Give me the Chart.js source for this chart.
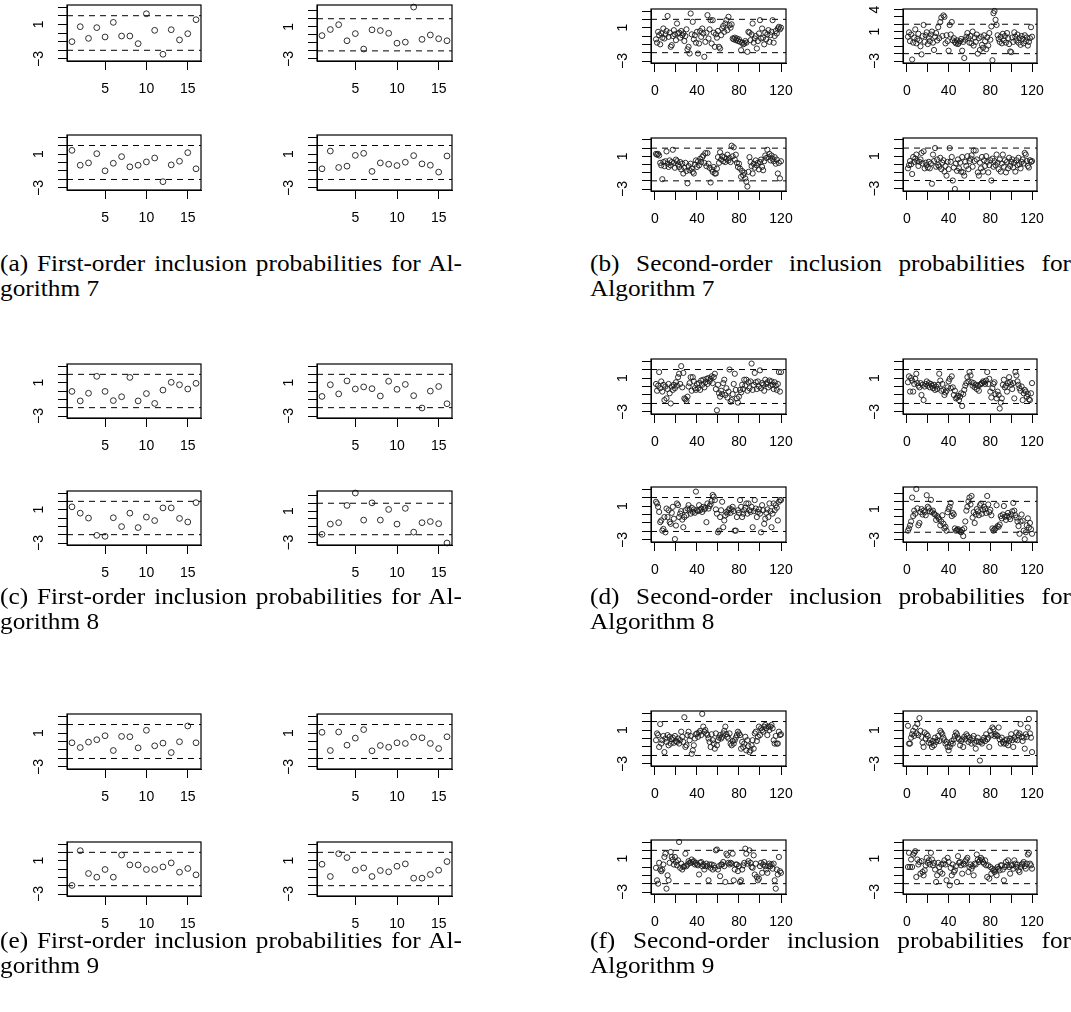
<!DOCTYPE html>
<html>
<head>
<meta charset="utf-8">
<script src="https://cdn.jsdelivr.net/npm/chart.js@4.4.0/dist/chart.umd.min.js"></script>
<style>
body{margin:0;background:#fff;}
#fig{position:relative;width:1071px;height:1012px;overflow:hidden;background:#fff;}
#fig canvas{position:absolute;}
.cap{position:absolute;font-family:"Liberation Serif",serif;font-size:23px;line-height:25px;color:#000;white-space:nowrap;transform:scaleX(1.1);transform-origin:0 0;}
.cap .j{text-align:justify;text-align-last:justify;white-space:normal;}
</style>
</head>
<body>
<div id="fig"></div>
<script>
// ---- data: first-order panels (16 units) ----
const a1 = [-1.0, 0.73, -0.62, 0.62, -0.46, 1.23, -0.35, -0.35, -1.23, 2.23, 0.31, -2.46, 0.38, -0.8, -0.08, 1.54];
const a2 = [-0.1, 0.66, 1.26, -0.74, 0.15, -1.77, 0.62, 0.53, 0.19, -1.04, -0.91, 3.45, -0.57, -0.02, -0.49, -0.74];
const a3 = [1.43, -0.32, -0.05, 1.04, -0.98, -0.09, 0.69, -0.51, -0.32, 0.07, 0.53, -2.26, -0.28, 0.15, 1.16, -0.74];
const a4 = [-0.74, 1.35, -0.59, -0.43, 0.84, 1.08, -1.05, -0.05, -0.2, -0.36, 0.03, 0.81, -0.16, -0.32, -1.13, 0.77];

const c1 = [-0.05, -1.19, -0.27, 1.76, -0.05, -1.15, -0.69, 1.63, -1.19, -0.31, -1.49, 0.11, 1.04, 0.75, 0.24, 0.92];
const c2 = [-0.65, 0.75, -0.35, 1.21, 0.24, 0.49, 0.28, -0.6, 1.17, 0.2, 0.79, -0.56, -2.04, -0.01, 0.54, -1.53];
const c3 = [1.34, 0.58, -0.01, -2.08, -2.2, 0.03, -1.03, 0.58, -1.15, 0.11, -0.31, 1.21, 1.21, -0.05, -0.48, 1.84];
const c4 = [-1.95, -0.65, -0.47, 1.72, 3.3, -0.14, 2.05, -0.14, 1.21, -0.65, 1.35, -1.67, -0.47, -0.33, -0.6, -3.05];

const e1 = [-0.15, -0.71, -0.07, 0.21, 0.68, -1.06, 0.6, 0.56, -0.75, 1.32, -0.51, -0.19, -1.3, -0.03, 1.83, -0.15];
const e2 = [1.08, -1.06, 1.12, -0.43, 0.4, 1.4, -1.1, -0.47, -0.67, -0.15, -0.23, 0.52, 0.44, -0.23, -0.83, 0.56];
const e3 = [-1.97, 2.2, -0.54, -0.98, -0.06, -0.98, 1.68, 0.49, 0.49, -0.06, -0.06, 0.25, 0.73, -0.38, 0.06, -0.7];
const e4 = [0.57, -0.9, 1.84, 1.37, -0.14, 0.13, -0.9, -0.18, -0.34, 0.33, 0.61, -1.1, -1.1, -0.66, -0.14, 0.89];

// ---- data: second-order panels (120 pairs) ----
const b1 = [-0.4, -0.8, 0.5, 0.1, -1.0, 0.3, -0.2, 0.9, -0.3, 0.2,
  0.6, 2.4, -0.1, 0.4, -1.3, -1.1, 0.0, 0.7, 0.2, -0.5,
  1.5, 0.3, 0.4, -0.2, 0.6, 0.1, 0.3, -0.6, 0.0, 0.8,
  -1.6, -1.3, -2.1, 2.7, 0.2, 1.7, -0.4, 0.1, -0.8, 0.5,
  -2.1, -0.9, 0.6, -0.1, 0.9, 0.3, -2.5, -0.7, 0.4, 2.5,
  -0.3, 0.8, 1.9, -0.9, 1.9, 0.4, -1.3, 0.2, -0.2, 0.6,
  -1.3, -1.5, 0.1, 0.9, 1.2, 0.5, 1.5, 1.9, 0.7, 2.3,
  1.3, 1.0, 1.4, -0.3, -0.4, -0.2, -0.5, -0.3, -0.6, -0.4,
  -0.7, -1.7, -0.8, -1.0, -0.9, -0.6, -0.8, -1.9, 0.5, 0.4,
  -0.5, 0.2, 1.5, -0.8, -0.3, 0.0, -1.5, -0.6, 0.3, 1.9,
  -0.3, 0.9, -0.2, -1.0, 0.4, -0.4, 0.2, 0.7, -0.7, 0.1,
  0.5, 1.9, -0.8, 0.0, 0.6, 0.3, 0.9, 1.1, 0.8, 1.0];
const b2 = [0.3, 0.9, -0.3, 0.6, -2.8, -0.5, 0.2, 1.3, -0.6, 0.0,
  0.7, -0.2, -1.0, -2.1, 0.4, 1.9, -0.4, 0.5, 0.9, -0.7,
  0.2, -0.3, 0.6, 1.0, -0.5, -1.5, 0.3, 0.8, -0.2, 1.6,
  0.1, 2.3, 2.9, 0.4, 3.2, 3.0, -0.6, 0.5, -0.3, -1.6,
  1.9, 0.6, 2.3, -0.2, 0.1, -0.4, -0.6, -0.2, -0.7, -0.5,
  -0.3, 0.0, -1.6, -0.4, -2.6, -0.1, 0.3, 0.8, 0.1, -0.5,
  0.4, -0.6, 1.0, -0.9, 0.2, -0.4, 0.6, -2.0, 0.1, -1.5,
  0.3, -0.8, -1.2, 0.5, -0.3, -1.4, 0.2, -0.9, 0.8, -0.1,
  1.7, -2.9, 3.5, 3.8, 2.6, 1.9, 0.5, 0.0, -0.4, 0.3,
  -0.6, 0.7, -0.2, 0.4, -0.5, 0.8, 0.1, -0.7, -1.7, -1.8,
  0.2, -0.4, 0.9, 0.3, -0.2, 0.6, -0.5, 0.1, -0.8, 0.4,
  0.0, -0.6, 0.5, -0.3, 0.2, -0.9, -0.4, 0.1, 1.6, 0.3];
const b3 = [1.3, 1.2, 1.3, 1.1, 0.2, -0.1, -1.8, 0.3, -0.2, 0.4,
  1.6, 0.1, -0.3, 0.5, -0.1, 0.3, 1.8, 0.2, -0.4, 0.6,
  0.4, 0.0, -0.3, 0.3, -0.6, 0.1, -1.1, -0.4, 0.2, -0.8,
  -2.3, -0.2, -0.7, 0.1, -0.5, -0.9, -1.1, 0.0, 0.5, -0.3,
  0.4, -0.1, 0.7, 0.3, 0.9, 1.1, 0.2, 1.4, -0.2, 1.4,
  0.1, -0.4, -2.2, -0.6, -0.9, -0.3, -1.1, -1.1, -0.5, 0.9,
  0.2, 1.5, 0.6, 1.0, 0.4, 0.9, 0.3, 0.7, 1.2, 0.5,
  0.8, 0.3, 2.3, 1.0, 2.1, 0.6, 1.2, 0.2, -0.3, 0.1,
  -0.5, -1.5, -0.8, -1.3, -1.0, -1.7, -2.1, -2.7, -0.9, 0.9,
  0.3, -0.2, -1.1, 0.1, -0.4, 0.5, -0.1, 0.2, -0.6, 0.3,
  0.6, -0.3, -0.7, 0.4, 1.1, 0.8, 1.8, 0.9, 1.3, 0.5,
  1.1, 0.7, 0.4, 0.9, 0.1, 0.6, -1.1, 0.2, -1.7, 0.4];
const b4 = [-0.5, -0.1, 0.4, 0.0, -1.2, 0.9, 0.3, 0.7, 1.2, 0.4,
  -0.2, 0.3, 0.6, 1.4, 0.1, 1.6, -0.5, 0.2, -0.1, -0.4,
  0.3, -0.5, 0.1, -2.4, 1.2, 0.4, 2.0, -0.3, 0.6, -0.1,
  -0.3, 0.8, -0.6, 0.2, 0.5, -0.9, -0.2, -1.4, 0.3, -0.6,
  2.0, 0.3, 0.9, -2.0, -0.4, -3.05, 0.1, -0.8, 0.6, -0.5,
  0.2, -0.9, 0.9, -1.0, -1.4, 0.3, -0.2, 1.0, -0.6, 0.4,
  0.7, 1.1, -0.3, 1.7, 0.4, 1.7, 0.6, -1.0, -1.4, 0.2,
  -0.5, 0.9, -0.9, 0.5, -0.2, 1.0, 0.3, -1.0, -0.1, 0.5,
  -2.0, 0.7, -0.3, 0.4, -0.1, 1.2, 0.2, -0.6, 0.6, -0.9,
  0.1, 1.2, -0.3, 0.5, -1.0, 0.3, -0.5, 0.8, -0.2, 0.3,
  0.6, -0.4, 0.2, -0.9, 0.5, -0.1, 0.8, 0.0, -0.5, 0.3,
  0.6, 0.1, 1.4, 1.2, 0.4, -0.2, -0.4, 0.5, 0.3, 0.4];

const d1 = [0.3, -0.5, 0.1, 1.7, -0.2, 0.6, -0.6, 0.2, -1.6, 0.0,
  -1.4, -0.3, 0.3, -0.8, -2.0, 0.0, -0.4, 0.2, -0.2, 0.5,
  0.1, 1.1, 1.5, 0.3, 2.4, -0.1, 1.6, -1.4, -1.5, -1.7,
  -1.2, 0.0, 0.4, 1.1, -0.5, 1.1, 0.6, -0.2, -0.4, 0.3,
  -0.2, 0.4, -0.4, 0.7, 0.2, 0.8, -0.1, 0.5, 0.9, 0.3,
  1.0, 0.6, 0.9, 1.2, 0.4, 1.1, 1.5, -0.3, -2.8, 0.2,
  -0.8, -1.2, -0.5, -0.9, 0.4, 0.8, -1.0, -0.2, -1.3, -0.6,
  2.0, -1.8, -1.6, -0.9, 0.3, 1.5, -0.4, -1.4, -1.9, -1.2,
  -0.4, -0.7, 0.2, -0.3, 0.8, 0.1, 0.8, -0.5, 0.5, -0.2,
  0.6, 2.7, -0.4, 0.2, 1.6, 0.5, -0.3, 0.6, 0.0, 1.9,
  -0.2, 0.4, 0.2, -0.5, 0.8, 0.3, 0.5, -0.1, 0.7, 0.1,
  0.6, 0.2, -0.3, 0.5, 0.1, -0.4, 0.3, 1.7, -0.6, 1.7];
const d2 = [0.5, 1.2, -0.6, 1.0, 0.7, -0.6, 0.3, 0.9, 1.5, 0.4,
  0.1, -0.1, 0.4, -1.0, 0.2, -1.6, 0.0, 0.3, 0.6, 0.1,
  0.4, -0.1, 0.3, 0.1, -0.2, 0.2, -0.4, 0.0, -0.3, 0.2,
  1.5, 0.7, -0.5, 0.3, -0.4, -1.0, -0.7, -0.5, -0.1, 0.6,
  0.9, -0.2, 1.2, -0.1, -1.0, -0.5, -1.4, -1.3, -1.1, -1.6,
  -1.2, -0.8, -2.3, -0.9, -0.4, 0.1, 0.4, 1.1, 0.6, 1.7,
  1.3, 0.5, 0.1, 0.4, -0.1, 0.2, -0.3, 0.1, -0.5, 0.2,
  0.3, 0.4, 0.6, 0.5, 0.3, 0.7, 1.7, 0.3, 0.9, -0.6,
  -1.3, -0.2, 0.3, 0.5, -0.9, -1.4, -0.6, -1.0, -2.6, -1.9,
  -1.4, 0.2, 0.8, -0.1, 0.1, -0.6, 0.4, 1.1, 0.5, 0.2,
  -0.3, 0.4, -1.4, 1.7, 1.3, 0.6, 0.2, -0.2, -0.5, 0.0,
  -1.6, -0.8, -0.4, -0.6, -1.2, -0.9, -1.5, -1.6, -0.8, 0.4];
const d3 = [1.5, 1.3, 0.9, 0.3, -0.9, -0.7, -1.9, -1.7, -0.3, -2.1,
  0.7, -0.3, 0.5, -0.9, -1.1, 0.2, 0.9, -0.5, -2.9, -1.3,
  1.3, 1.1, -0.3, 0.1, 0.4, -0.6, -1.5, -0.3, 0.5, -0.1,
  0.7, 1.1, 0.5, 0.1, 0.8, 0.3, 0.6, 0.2, 2.7, 0.5,
  0.4, 1.1, 0.5, 0.7, 0.3, 0.9, 0.6, 0.8, -0.9, 1.3,
  0.7, 1.0, 1.2, 1.6, 2.3, 2.1, 1.7, 0.6, 0.1, -2.1,
  -1.9, -0.3, 0.5, 1.5, -1.5, -0.7, -0.1, 0.3, 0.1, 0.5,
  0.7, 0.2, 0.6, 0.9, 0.4, -1.9, -1.9, -0.3, 0.5, 0.2,
  1.7, 0.9, -0.3, 0.1, 0.5, 0.8, 1.3, 0.1, 1.3, 0.5,
  0.3, 0.9, -1.5, 0.4, 1.7, 0.7, -0.3, 0.3, 0.6, 0.1,
  -2.1, 1.1, 0.5, -1.1, -0.5, 0.2, 0.6, -0.3, 1.3, 0.4,
  -1.5, 0.1, 1.3, 0.5, 1.1, 0.8, -0.7, 1.5, 1.7, 1.7];
const d4 = [-1.8, -1.5, -1.1, -0.6, 2.5, 0.1, 0.8, 0.4, 3.6, 1.1,
  -1.1, -0.8, 0.6, 1.0, 0.3, 0.8, 0.6, 0.2, 2.8, 1.3,
  1.1, 0.7, 2.2, 0.6, 0.8, 0.4, 0.3, -0.4, 0.1, -0.1,
  -0.3, -1.1, -0.6, 0.2, -0.9, -1.5, -1.3, -1.8, 0.6, 1.0,
  1.3, 1.8, 0.1, 0.5, 0.3, -1.5, -1.8, -1.7, -1.6, -1.8,
  -1.9, -2.0, -1.7, -2.5, -1.5, -0.6, 0.8, 1.3, 2.0, 2.5,
  1.6, 2.7, -0.1, 0.6, -0.8, 0.3, 1.0, 0.7, 0.2, 1.5,
  1.7, 0.4, 0.9, 1.3, 1.0, 0.5, 2.7, 1.6, 0.6, 0.9,
  0.2, -1.5, -1.8, -1.6, -1.5, 1.5, -1.2, -1.3, -1.0, 0.1,
  -0.2, 0.3, 1.4, 0.0, -0.4, 0.1, 0.5, 0.0, -0.3, 0.3,
  0.7, 1.8, 0.8, 0.2, -0.1, -0.6, -1.2, -2.2, -0.6, 0.3,
  -0.5, -1.8, -2.9, -2.0, -1.1, -0.2, -1.4, -0.8, -1.6, -2.2];

const f1 = [-0.2, 0.6, 0.4, -1.0, 1.7, -0.6, -0.2, 0.3, -1.6, 0.0,
  -0.4, 0.4, -0.8, 0.2, -0.6, -0.1, 0.1, -0.5, 0.3, -0.3,
  -0.4, 0.0, -0.6, -0.2, 0.8, 0.2, -0.4, 2.5, -1.0, -0.8,
  0.4, 0.8, -0.2, 0.3, -1.8, -1.4, -0.8, 0.0, 0.5, 0.6,
  0.2, 0.7, 0.9, 0.4, 2.9, 1.4, 0.8, 1.0, 0.6, 0.4,
  0.0, -0.4, -1.0, 0.5, -0.2, -0.6, -1.2, 0.6, -0.8, -0.2,
  0.1, 0.4, 0.0, 0.2, 0.6, 0.9, 1.4, 0.5, 0.2, 0.0,
  0.6, -0.6, -0.8, -0.3, -0.6, -0.2, 0.1, 0.4, 0.8, 0.6,
  0.4, -1.2, -0.4, -1.0, -0.6, 0.2, -1.4, -0.2, -0.9, -1.6,
  -1.4, -0.8, -0.2, -1.2, 0.6, 0.8, -0.3, 0.2, 1.4, 0.4,
  1.2, 1.0, 0.8, 1.4, 1.6, 1.2, 0.4, 1.4, 1.0, 1.4,
  1.6, 1.2, -0.2, -0.6, 0.3, -0.6, -0.6, 0.8, 0.4, 0.5];
const f2 = [1.5, -0.6, -0.6, 0.1, 0.5, 0.9, 0.3, 1.3, 0.6, 1.7,
  0.4, 2.4, 0.9, 0.2, -0.5, -1.0, 0.7, 0.0, 0.5, 0.3,
  -0.5, -0.2, -0.6, -1.0, -0.3, -0.8, 0.1, -0.4, -0.2, 0.3,
  -0.3, 0.9, 0.7, 0.5, 0.1, -0.2, -0.6, -0.4, -1.0, -1.4,
  -1.0, -0.6, -0.3, -0.6, -0.1, 0.3, 0.7, 0.5, 0.1, -0.1,
  -0.8, -0.3, -0.1, -1.0, 0.2, -0.1, 0.5, 0.3, -0.4, 0.1,
  -0.2, -0.6, 0.0, 0.3, -0.5, -1.2, -0.3, 0.1, -0.4, -2.6,
  -0.4, -0.6, -0.2, 0.1, -0.3, 0.5, -0.1, 0.1, -1.0, 0.9,
  0.4, 1.3, 1.1, 0.3, 0.5, 0.4, 0.3, 1.3, -0.1, -0.6,
  0.1, -0.4, -0.6, -0.2, -0.6, -0.1, -0.8, -0.3, 0.0, 0.5,
  -0.2, -1.0, 0.1, -0.1, 0.7, -0.2, 0.4, 0.6, 1.7, 0.2,
  -0.3, 0.1, -1.2, 0.5, 0.2, 1.3, 2.3, 0.6, 0.1, -1.6];
const f3 = [-0.1, -1.6, -2.0, 0.5, -0.3, -0.5, -0.3, 0.3, 1.2, 1.6,
  -2.6, -1.0, -1.6, 0.5, 1.8, 1.2, 0.9, 0.3, 1.2, 0.6,
  0.2, 0.8, 3.0, -0.1, 0.4, -0.3, 0.0, 0.1, 1.6, 0.1,
  0.3, 0.7, 0.5, 0.5, 0.9, 0.6, 0.7, 0.3, 0.5, 0.3,
  0.2, -0.9, 0.5, 0.6, 0.1, 0.3, -0.3, 0.1, 0.4, 0.1,
  -1.6, 0.3, -0.1, 0.3, -0.3, 0.2, -0.1, 2.0, 2.1, -0.3,
  0.1, -1.1, 0.3, 0.3, 0.6, 0.1, -1.8, 1.6, 1.4, 0.5,
  0.3, 0.5, 0.4, 1.6, -1.6, -0.3, 0.3, 0.3, -0.5, 0.1,
  -1.8, -1.6, -0.3, 0.2, 0.5, 2.2, 1.6, 0.4, 0.7, 2.0,
  0.5, 0.0, -0.1, 1.4, -0.9, 0.4, -1.2, -1.6, -1.4, 0.1,
  0.5, -0.7, 0.3, 0.6, 0.1, -0.3, -0.7, 0.1, 0.4, 0.1,
  0.3, -0.2, 0.4, -1.6, -2.6, -0.3, -0.9, 1.2, -0.5, -0.7];
const f4 = [0.0, 1.7, 0.0, 0.9, 0.0, 1.5, 1.7, 1.9, -1.2, 0.9,
  0.3, 0.6, -0.8, 0.7, -0.6, -1.0, -0.4, 0.2, 1.1, 0.5,
  0.8, 0.3, 1.7, 0.9, 0.2, 0.5, -0.3, -1.8, -1.0, 0.5,
  0.0, -0.6, 0.3, -0.8, 0.4, 0.8, 0.3, -1.6, 1.1, 0.6,
  -2.2, -0.1, -1.0, 0.3, -0.6, -0.4, 0.1, -1.8, 1.3, 0.5,
  0.6, 0.2, -0.8, 0.4, 0.3, 0.7, 0.9, 1.1, -0.6, 0.0,
  0.3, -0.2, 0.1, -1.0, 0.4, 0.3, 1.5, 0.9, 0.6, 0.8,
  1.1, 0.9, 0.6, 0.4, 0.8, 0.2, -1.2, 0.2, -1.4, 0.0,
  -0.8, -0.2, -0.4, -0.6, -0.3, -1.0, 0.0, -0.2, -0.4, 0.2,
  0.2, -0.3, -1.6, 0.0, 0.6, 0.2, 0.8, 0.0, -0.8, 0.2,
  0.2, -0.2, 0.8, 0.4, 0.0, 0.3, -0.4, -0.6, 0.0, 0.3,
  0.4, 0.6, 0.1, -0.2, 0.4, 1.5, 1.7, 0.4, 0.2, -0.2];

// ---- axes and reference lines ----
const x16Ticks = [5, 10, 15];
const x16Labels = [5, 10, 15];
const x120Ticks = [0, 20, 40, 60, 80, 100, 120];
const x120Labels = [0, 40, 80, 120];
const yLabelsStd = [1, -3];
const yLabelsWide = [4, 1, -3];
const refLevels = [2, -2];

const captions = [
  {l1: '(a) First-order inclusion probabilities for Al-', l2: 'gorithm 7', x: 0, w: 462, y: 251},
  {l1: '(b) Second-order inclusion probabilities for', l2: 'Algorithm 7', x: 590, w: 481, y: 251},
  {l1: '(c) First-order inclusion probabilities for Al-', l2: 'gorithm 8', x: 0, w: 462, y: 584},
  {l1: '(d) Second-order inclusion probabilities for', l2: 'Algorithm 8', x: 590, w: 481, y: 584},
  {l1: '(e) First-order inclusion probabilities for Al-', l2: 'gorithm 9', x: 0, w: 462, y: 928},
  {l1: '(f) Second-order inclusion probabilities for', l2: 'Algorithm 9', x: 590, w: 481, y: 928}
];
const CAP_SCALE = 1.1;

// box positions (plot region of every panel)
const colL = [[67, 201], [317, 452]];
const colR = [[651, 786], [903, 1037]];
const panels = [
  {v: a1, c: colL[0], r: [5, 61]},   {v: a2, c: colL[1], r: [5, 61]},
  {v: a3, c: colL[0], r: [135, 190]}, {v: a4, c: colL[1], r: [135, 190]},
  {v: b1, c: colR[0], r: [9, 63]},   {v: b2, c: colR[1], r: [9, 63], yl: yLabelsWide},
  {v: b3, c: colR[0], r: [138, 191]}, {v: b4, c: colR[1], r: [138, 191]},
  {v: c1, c: colL[0], r: [364, 418]}, {v: c2, c: colL[1], r: [364, 418]},
  {v: c3, c: colL[0], r: [491, 545]}, {v: c4, c: colL[1], r: [491, 545]},
  {v: d1, c: colR[0], r: [359, 414]}, {v: d2, c: colR[1], r: [359, 414]},
  {v: d3, c: colR[0], r: [487, 542]}, {v: d4, c: colR[1], r: [487, 542]},
  {v: e1, c: colL[0], r: [714, 769]}, {v: e2, c: colL[1], r: [714, 769]},
  {v: e3, c: colL[0], r: [842, 896]}, {v: e4, c: colL[1], r: [842, 896]},
  {v: f1, c: colR[0], r: [711, 766]}, {v: f2, c: colR[1], r: [711, 766]},
  {v: f3, c: colR[0], r: [840, 894]}, {v: f4, c: colR[1], r: [840, 894]}
];

const FONT = '"Liberation Sans", Arial, sans-serif';
const fig = document.getElementById('fig');

// R style: rotated y labels and a full box round the plot region
const rBox = {
  id: 'rBox',
  afterDraw(chart, args, o) {
    const {ctx, chartArea, scales} = chart;
    ctx.save();
    ctx.fillStyle = '#000';
    ctx.font = '14px ' + FONT;
    ctx.textAlign = 'center';
    ctx.textBaseline = 'middle';
    o.labels.forEach(v => {
      const y = scales.y.getPixelForValue(v);
      ctx.save();
      ctx.translate(chartArea.left - 29, y);
      ctx.rotate(-Math.PI / 2);
      ctx.fillText(v < 0 ? '\u2212' + (-v) : String(v), 0, 1);
      ctx.restore();
    });
    ctx.strokeStyle = '#000';
    ctx.lineWidth = 1.2;
    ctx.strokeRect(chartArea.left, chartArea.top, chartArea.width, chartArea.height);
    ctx.restore();
  }
};

function panel(p) {
  const L = 50, T = 8, R = 24, B = 48;
  const n = p.v.length;
  const big = n > 20;
  const xmin = 1 - 0.04 * (n - 1), xmax = n + 0.04 * (n - 1);
  const lo0 = Math.min(-3, ...p.v), hi0 = Math.max(3, ...p.v);
  const pad = 0.04 * (hi0 - lo0);
  const lo = lo0 - pad, hi = hi0 + pad;
  const yt = [];
  for (let t = Math.ceil(lo); t <= Math.floor(hi); t++) yt.push(t);
  const xt = big ? x120Ticks : x16Ticks;
  const xl = big ? x120Labels : x16Labels;
  const w = p.c[1] - p.c[0], h = p.r[1] - p.r[0];

  const cv = document.createElement('canvas');
  cv.width = w + L + R; cv.height = h + T + B;
  cv.style.left = (p.c[0] - L) + 'px';
  cv.style.top = (p.r[0] - T) + 'px';
  fig.appendChild(cv);

  const ref = refLevels.map(lv => ({
    data: [{x: xmin, y: lv}, {x: xmax, y: lv}],
    showLine: true, borderColor: '#000', borderWidth: 1, borderDash: [6, 5],
    pointRadius: 0, fill: false, clip: false
  }));

  new Chart(cv, {
    type: 'scatter',
    data: {
      datasets: [{
        data: p.v.map((y, i) => ({x: i + 1, y: y})),
        pointStyle: 'circle',
        pointRadius: big ? 2.6 : 2.9,
        borderWidth: 0.9,
        borderColor: '#1a1a1a',
        backgroundColor: 'rgba(0,0,0,0)',
        clip: false
      }].concat(ref)
    },
    options: {
      responsive: false,
      animation: false,
      events: [],
      layout: {padding: {left: 0, top: T, right: R, bottom: 0}, autoPadding: false},
      plugins: {legend: {display: false}, tooltip: {enabled: false}, rBox: {labels: p.yl || yLabelsStd}},
      scales: {
        x: {
          type: 'linear', min: xmin, max: xmax,
          afterBuildTicks: s => { s.ticks = xt.map(v => ({value: v})); },
          afterFit: s => { s.height = B; },
          grid: {drawOnChartArea: false, drawTicks: true, tickLength: 9, color: '#000', lineWidth: 1},
          border: {display: true, color: '#000', width: 1},
          ticks: {
            autoSkip: false, maxRotation: 0, minRotation: 0, padding: 11, color: '#000',
            font: {family: FONT, size: 14},
            callback: v => xl.includes(v) ? String(v) : ''
          }
        },
        y: {
          type: 'linear', min: lo, max: hi,
          afterBuildTicks: s => { s.ticks = yt.map(v => ({value: v})); },
          afterFit: s => { s.width = L; },
          grid: {drawOnChartArea: false, drawTicks: true, tickLength: 9, color: '#000', lineWidth: 1},
          border: {display: true, color: '#000', width: 1},
          ticks: {display: false}
        }
      }
    },
    plugins: [rBox]
  });
}

panels.forEach(panel);

captions.forEach(c => {
  const d = document.createElement('div');
  d.className = 'cap';
  d.style.left = c.x + 'px';
  d.style.top = c.y + 'px';
  d.style.width = (c.w / CAP_SCALE) + 'px';
  d.innerHTML = '<div class="j">' + c.l1 + '</div><div>' + c.l2 + '</div>';
  fig.appendChild(d);
});
</script>
</body>
</html>
